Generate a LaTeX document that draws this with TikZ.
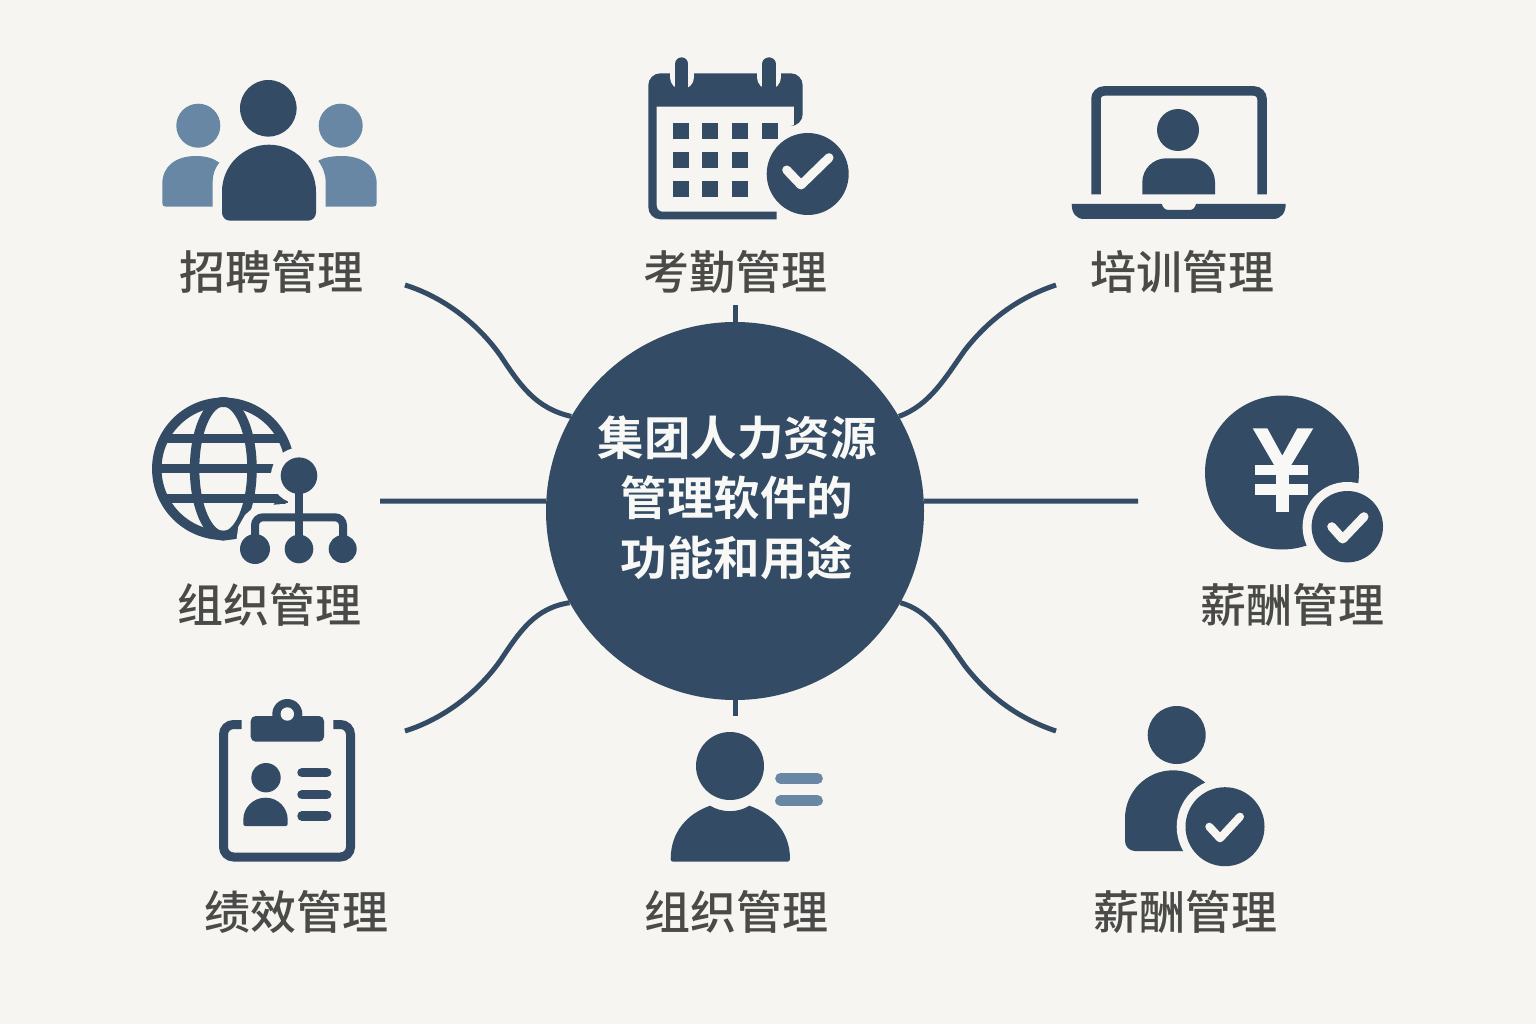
\documentclass[tikz,border=0pt]{standalone}
\usepackage{fontspec}
\newfontfamily\cjk{Noto Sans CJK SC Medium}
\newfontfamily\cjkt{Noto Sans CJK SC Bold}
\definecolor{bgc}{HTML}{F6F5F1}
\definecolor{dk}{HTML}{334B64}
\definecolor{lt}{HTML}{6787A4}
\definecolor{txt}{HTML}{4A4A48}
\definecolor{wht}{HTML}{F8F8F6}
\tikzset{
  lab/.style={font=\cjk\fontsize{46}{50}\selectfont,text=txt,inner sep=0pt},
  ttl/.style={font=\cjkt\fontsize{46.5}{60}\selectfont,text=wht,align=center,inner sep=0pt},
  link/.style={draw=dk,line width=5pt},
  tick/.style={draw=bgc,line width=#1,line cap=round,line join=round},
  hb/.style={fill=bgc},
  df/.style={fill=dk},
  lf/.style={fill=lt}
}
\begin{document}
\begin{tikzpicture}[x=1pt,y=-1pt]
\useasboundingbox (0,0) rectangle (1536,1024);
\fill[bgc] (0,0) rectangle (1536,1024);

% free ends of connectors
\coordinate (eTL) at (405,285);
\coordinate (eTR) at (1056,285);
\coordinate (eBL) at (405,731);
\coordinate (eBR) at (1056,731);
\coordinate (eT) at (735,305);
\coordinate (eB) at (735,716);
\coordinate (eL) at (380,501);
\coordinate (eR) at (1138,501);

% centre
\node[circle,fill=dk,minimum size=378pt,inner sep=0pt] (c) at (735,511) {};
\draw[link] (eT) -- (c.90);
\draw[link] (eB) -- (c.270);
\draw[link] (eL) -- (c.177);
\draw[link] (eR) -- (c.3);
\draw[link] (eTL) .. controls +(35,11) and (475,320) .. (500,355) .. controls (520,385) and (535,408) .. (c.150);
\draw[link] (eTR) .. controls +(-36,12) and (990,318) .. (965,350) .. controls (945,378) and (930,405) .. (c.30);
\draw[link] (eBL) .. controls +(35,-11) and (475,696) .. (500,661) .. controls (520,631) and (535,608) .. (c.209);
\draw[link] (eBR) .. controls +(-36,-12) and (990,698) .. (965,666) .. controls (945,638) and (930,611) .. (c.331);
\node[ttl] (title) at (737,498) {集团人力资源\\管理软件的\\功能和用途};

% labels
\node[lab] (l1) at (271,272) {招聘管理};
\node[lab] (l2) at (735,272) {考勤管理};
\node[lab] (l3) at (1182,272) {培训管理};
\node[lab] (l4) at (269,605) {组织管理};
\node[lab] (l5) at (1292,605) {薪酬管理};
\node[lab] (l6) at (296,912) {绩效管理};
\node[lab] (l7) at (736,912) {组织管理};
\node[lab] (l8) at (1185,912) {薪酬管理};

% ---- people icon
\fill[df] (268.3,108.3) circle [radius=28.3];
\fill[df] (269,220.7) [rounded corners=8pt] -- (222,220.7) [rounded corners=47pt] -- (222,144.7) -- (316,144.7) [rounded corners=8pt] -- (316,220.7) -- cycle;
\fill[lf] (198.3,125.7) circle [radius=22];
\fill[lf] (340.7,125.7) circle [radius=22];
\fill[lf] (212.7,206.7) -- (166,206.7) .. controls (163.5,206.7) and (162.3,205.5) .. (162.3,203) -- (162.3,184) .. controls (162.3,166) and (176,156) .. (196,156) .. controls (206,156) and (214,158.5) .. (219.3,162.7) .. controls (215,168) and (212.7,174) .. (212.7,181.7) -- cycle;
\fill[lf] (325.7,206.7) -- (373,206.7) .. controls (375.5,206.7) and (376.7,205.5) .. (376.7,203) -- (376.7,184) .. controls (376.7,166) and (362,156) .. (342,156) .. controls (332,156) and (324,157.5) .. (318.3,160.7) .. controls (323,168) and (325.7,174) .. (325.7,181.7) -- cycle;

% ---- calendar icon
\fill[df] (776.7,219.3) [rounded corners=12pt] -- (648.3,219.3) -- (648.3,73.3) -- (802.7,73.3) -- (802.7,126) [sharp corners] -- (794,126) -- (794,106.7) -- (656.7,106.7) [rounded corners=6pt] -- (656.7,211.7) [sharp corners] -- (776.7,211.7) -- cycle;
\draw[tick=24pt] (681.7,72) -- (681.7,77.3);
\draw[tick=24pt] (769,72) -- (769,77.3);
\draw[draw=dk,line width=13.3pt,line cap=round] (681.7,64) -- (681.7,95);
\draw[draw=dk,line width=13.3pt,line cap=round] (769,64) -- (769,95);
\foreach \gx/\gy in {673.3/123.3,702.3/123.3,732/123.3,761.7/123.3,673.3/152.3,702.3/152.3,732/152.3,673.3/181,702.3/181,732/181}
  \fill[df] (\gx,\gy) rectangle ++(16,16);
\fill[df] (807.7,174) circle [radius=41];
\draw[tick=9pt] (786.7,170) -- (801,185) -- (829,157.7);

% ---- laptop icon
\draw[draw=dk,line width=9.5pt,rounded corners=8pt] (1096,194.3) -- (1096,91) -- (1262,91) -- (1262,194.3);
\fill[df] (1178,130) circle [radius=21];
\fill[df] (1142.3,194.3) [rounded corners=24pt] -- (1142.3,158.3) -- (1215,158.3) [sharp corners] -- (1215,194.3) -- cycle;
\fill[df] (1071.7,204) -- (1161.7,204) .. controls (1163,208) and (1165,210) .. (1169,210) -- (1189,210) .. controls (1193,210) and (1195,208) .. (1196,204) -- (1285.7,204) .. controls (1285.7,213) and (1281,219) .. (1273,219) -- (1084,219) .. controls (1076,219) and (1071.7,213) .. (1071.7,204) -- cycle;

% ---- globe icon
\draw[draw=dk,line width=9.5pt] (223.3,468.8) circle [radius=66.5];
\draw[draw=dk,line width=9.5pt] (223.3,468.8) ellipse [x radius=28.7,y radius=67];
\draw[draw=dk,line width=9.3pt] (162,438.3) -- (283,438.3);
\draw[draw=dk,line width=9.3pt] (157,468.3) -- (288,468.3);
\draw[draw=dk,line width=9.3pt] (162,498.3) -- (288,498.3);
\fill[hb] (299,475.7) circle [radius=28];
\fill[hb] (283.3,504) -- (255,506) -- (245,515) -- (238.3,526.7) -- (236.7,538.3) -- (240,566.7) -- (373,566.7) -- (373,504) -- cycle;
\fill[hb] (255,549) circle [radius=21];
\fill[df] (299,475.7) circle [radius=18.3];
\draw[draw=dk,line width=8pt] (299,480) -- (299,545);
\draw[draw=dk,line width=8pt,rounded corners=8pt] (255,545) -- (255,517.3) -- (343,517.3) -- (343,545);
\fill[df] (255,549) circle [radius=15];
\fill[df] (299,549) circle [radius=14.3];
\fill[df] (342.7,549) circle [radius=14];

% ---- yen icon
\fill[df] (1282,472.5) circle [radius=77];
\fill[hb] (1347.3,526.7) circle [radius=44.7];
\fill[df] (1347.3,526.7) circle [radius=35.7];
\draw[tick=9pt] (1331.7,526.7) -- (1342.7,539) -- (1364,516.7);
\fill[wht] (1252.7,428.3) -- (1267.3,428.3) -- (1282.3,455.7) -- (1297.3,428.3) -- (1313.3,428.3) -- (1289.3,468.3) -- (1276,468.3) -- cycle;
\fill[wht] (1255,465) rectangle (1308.3,475);
\fill[wht] (1255,484.3) rectangle (1308.3,495);
\fill[wht] (1276,465) rectangle (1289.3,512.3);

% ---- clipboard icon
\draw[draw=dk,line width=9pt,rounded corners=10pt] (241.7,724.5) -- (223.5,724.5) -- (223.5,857) -- (350.5,857) -- (350.5,724.5) -- (333.3,724.5);
\fill[df] (287.3,714) circle [radius=15];
\fill[df,rounded corners=5pt] (250.7,716) rectangle (324,741.7);
\fill[hb] (287.3,714) circle [radius=6.7];
\fill[df] (266,777.7) circle [radius=14.7];
\fill[df] (265.5,826) [rounded corners=2pt] -- (243.3,826) [rounded corners=22pt] -- (243.3,797.7) -- (287.7,797.7) [rounded corners=2pt] -- (287.7,826) -- cycle;
\foreach \ly in {772.7,794.7,816}
  \draw[draw=dk,line width=9.5pt,line cap=round] (302,\ly) -- (326.7,\ly);

% ---- person with lines icon
\fill[df] (730,766) circle [radius=34];
\fill[df] (673,861.7) .. controls (671.5,861.7) and (670.7,860.5) .. (670.7,859) .. controls (670.7,832) and (687,814) .. (710,805.7) .. controls (722,813) and (738,813) .. (749.3,805.7) .. controls (773,814) and (790,832) .. (790,859) .. controls (790,860.5) and (789,861.7) .. (787.5,861.7) -- cycle;
\draw[draw=lt,line width=10.7pt,line cap=round] (780.5,778.3) -- (817.5,778.3);
\draw[draw=lt,line width=10.7pt,line cap=round] (780.5,800.7) -- (817.5,800.7);

% ---- person with check icon
\fill[df] (1176.7,735) circle [radius=29];
\fill[df] (1175,851) [rounded corners=10pt] -- (1125,851) [rounded corners=48pt] -- (1125,770.3) -- (1221,770.3) [sharp corners] -- (1221,851) -- cycle;
\fill[hb] (1225,826.7) circle [radius=48.3];
\fill[df] (1225,826.7) circle [radius=39.5];
\draw[tick=8pt] (1209.3,826.7) -- (1220,838.3) -- (1240,816.7);
\end{tikzpicture}
\end{document}
